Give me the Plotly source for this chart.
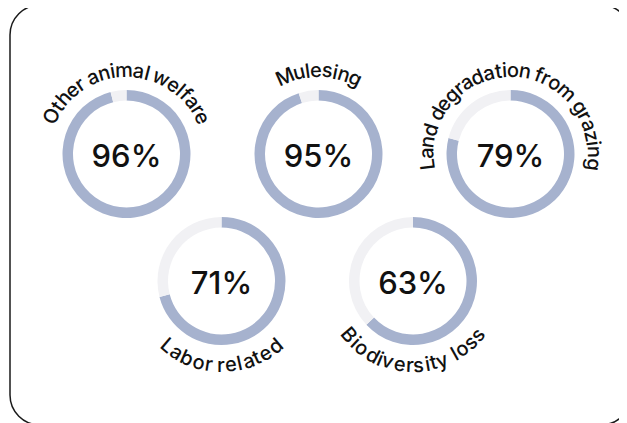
import math
import plotly.graph_objects as go

labels = ["Other animal welfare", "Mulesing", "Land degradation from grazing",
          "Labor related", "Biodiversity loss"]
values = [96, 95, 79, 71, 63]
label_side = ["top", "top", "top", "bottom", "bottom"]

W, H = 627, 423
# ring centres (px inside the figure) - layout only
centres = [(118.5, 146), (310.5, 146), (502.5, 146), (213.5, 273), (405, 273)]
R_OUT = 64
THICK = 10.5
TEXT_R = 84
FS = 20
TRACK = 0.7
FONT = "Inter"

BLUE = "#a6b2ce"
GREY = "#f1f1f4"

# approximate advance widths (per 1000 em)
widths = {" ": 210, "O": 778, "M": 860, "L": 540, "B": 660,
          "a": 550, "b": 580, "c": 540, "d": 580, "e": 560, "f": 340, "g": 580,
          "h": 560, "i": 240, "l": 240, "m": 860, "n": 560, "o": 570, "r": 360,
          "s": 510, "t": 340, "u": 560, "v": 520, "w": 760, "y": 520, "z": 510}

fig = go.Figure()
annotations = []

for lab, val, side, (cx, cy) in zip(labels, values, label_side, centres):
    fig.add_trace(go.Pie(
        values=[val, 100 - val],
        marker=dict(colors=[BLUE, GREY], line=dict(width=0)),
        hole=(R_OUT - THICK) / R_OUT,
        sort=False, direction="clockwise", rotation=0,
        textinfo="none", hoverinfo="skip",
        domain=dict(x=[(cx - R_OUT) / W, (cx + R_OUT) / W],
                    y=[1 - (cy + R_OUT) / H, 1 - (cy - R_OUT) / H]),
        title=dict(text=f"{val}%", position="middle center",
                   font=dict(size=31, color="#111111", family=FONT, weight=500)),
    ))

    # curved label, one character at a time
    adv = [widths.get(ch, 556) / 1000 * FS for ch in lab]
    total = sum(adv) + TRACK * (len(lab) - 1)
    s = -total / 2
    for ch, a in zip(lab, adv):
        sc = s + a / 2
        s += a + TRACK
        if ch == " ":
            continue
        ang = sc / TEXT_R
        if side == "top":
            px = cx + TEXT_R * math.sin(ang)
            py = cy - TEXT_R * math.cos(ang)
            rot = math.degrees(ang)
        else:
            px = cx + TEXT_R * math.sin(ang)
            py = cy + TEXT_R * math.cos(ang)
            rot = -math.degrees(ang)
        annotations.append(dict(
            x=px / W, y=1 - py / H, xref="paper", yref="paper",
            text=ch, showarrow=False, textangle=rot,
            xanchor="center", yanchor="middle",
            font=dict(size=FS, color="#111111", family=FONT, weight=450)))

# rounded frame
x0, y0, x1, y1, rad = 2, -3, 623, 417, 30
k = 0.5523 * rad
def P(x, y):
    return f"{x / W:.5f},{1 - y / H:.5f}"
path = (f"M {P(x0 + rad, y0)} L {P(x1 - rad, y0)} "
        f"C {P(x1 - rad + k, y0)} {P(x1, y0 + rad - k)} {P(x1, y0 + rad)} "
        f"L {P(x1, y1 - rad)} "
        f"C {P(x1, y1 - rad + k)} {P(x1 - rad + k, y1)} {P(x1 - rad, y1)} "
        f"L {P(x0 + rad, y1)} "
        f"C {P(x0 + rad - k, y1)} {P(x0, y1 - rad + k)} {P(x0, y1 - rad)} "
        f"L {P(x0, y0 + rad)} "
        f"C {P(x0, y0 + rad - k)} {P(x0 + rad - k, y0)} {P(x0 + rad, y0)} Z")

fig.update_layout(
    width=W, height=H, autosize=False,
    margin=dict(l=0, r=0, t=0, b=0),
    paper_bgcolor="white", plot_bgcolor="white",
    showlegend=False,
    annotations=annotations,
    shapes=[dict(type="path", path=path, xref="paper", yref="paper",
                 line=dict(color="#1a1a1a", width=1.5), layer="below")],
)

fig.write_html("out.html")
